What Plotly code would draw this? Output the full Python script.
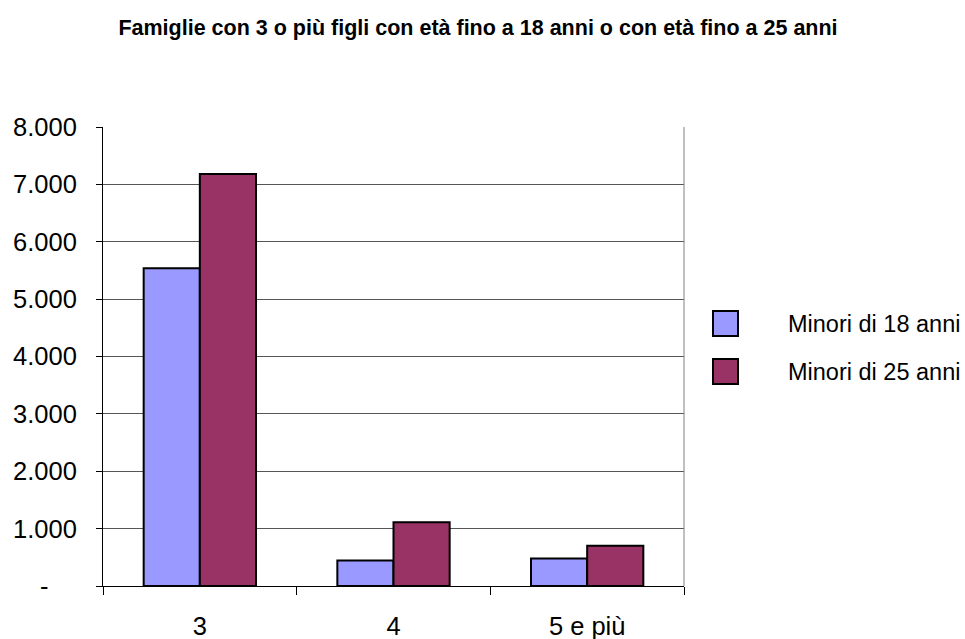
import plotly.graph_objects as go

categories = ["3", "4", "5 e più"]
series_names = ["Minori di 18 anni", "Minori di 25 anni"]
minori_18 = [5540, 445, 480]
minori_25 = [7180, 1110, 700]
y_tickvals = [0, 1000, 2000, 3000, 4000, 5000, 6000, 7000, 8000]
y_ticktext = ["-\u00a0\u00a0\u00a0\u00a0", "1.000", "2.000", "3.000", "4.000",
              "5.000", "6.000", "7.000", "8.000"]
colors = ["#9999FF", "#993366"]

W, H = 965, 639
L, R, T, B = 103, 281, 127, 53
PW, PH = W - L - R, H - T - B


def px_x(x):
    return (x - L) / PW


def px_y(y):
    return (H - B - y) / PH


fig = go.Figure()
for name, vals, col in zip(series_names, [minori_18, minori_25], colors):
    fig.add_trace(go.Bar(x=categories, y=vals, name=name, showlegend=False,
                         marker=dict(color=col, line=dict(color="black", width=2))))

# manual legend (swatches + labels)
legend_rows = [(311, 336, 324), (359, 384, 372)]
for (top, bot, mid), name, col in zip(legend_rows, series_names, colors):
    fig.add_shape(type="rect", xref="paper", yref="paper",
                  x0=px_x(713), x1=px_x(738), y0=px_y(bot), y1=px_y(top),
                  fillcolor=col, line=dict(color="black", width=2), layer="above")
    fig.add_annotation(text=name, xref="paper", yref="paper", x=px_x(786), y=px_y(mid),
                       xanchor="left", yanchor="middle", showarrow=False,
                       font=dict(size=23.5, color="black"))

fig.update_layout(
    width=W, height=H,
    paper_bgcolor="white", plot_bgcolor="white",
    margin=dict(l=L, r=R, t=T, b=B, autoexpand=False),
    barmode="group", bargap=0.42, bargroupgap=0,
    font=dict(family="Liberation Sans, Arial", color="black", size=25.5),
    title=dict(text="<b>Famiglie con 3 o più figli con età fino a 18 anni o con età fino a 25 anni</b>",
               x=478 / W, xref="container", xanchor="center", y=1 - 27 / H, yanchor="middle",
               font=dict(family="Liberation Sans, Arial", size=21.5, color="black")),
    showlegend=False,
)
fig.update_xaxes(type="category", showline=True, linecolor="black", linewidth=1,
                 mirror=False, ticks="outside", tickson="boundaries", ticklen=8,
                 tickcolor="black", showgrid=False, automargin=False,
                 ticklabelstandoff=17)
fig.update_yaxes(range=[0, 8000], tickvals=y_tickvals, ticktext=y_ticktext,
                 showline=True, linecolor="black", linewidth=1, mirror=False,
                 ticks="outside", ticklen=6, tickcolor="black",
                 showgrid=True, gridcolor="#555555", gridwidth=1, automargin=False,
                 zeroline=False, ticklabelstandoff=14)
# plot area right border
fig.add_shape(type="line", xref="paper", yref="paper", x0=1, x1=1, y0=0, y1=1,
              line=dict(color="#808080", width=1))

fig.write_html("out.html", config={"displayModeBar": False},
               post_script="document.body.style.margin='0';document.body.style.overflow='hidden';")
